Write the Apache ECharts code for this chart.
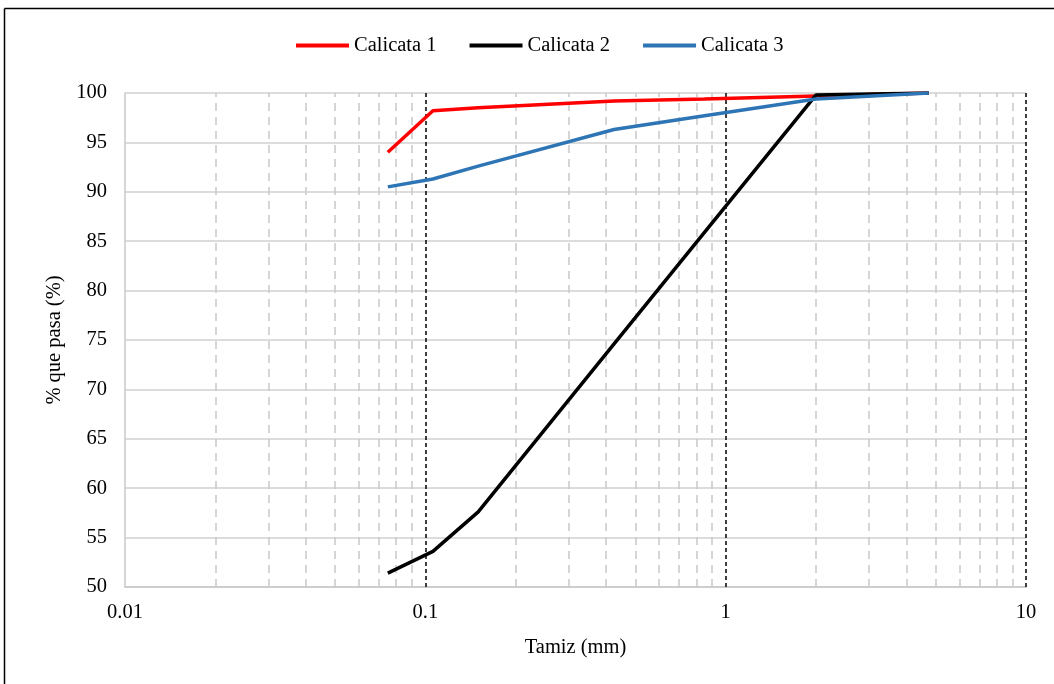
<!DOCTYPE html>
<html>
<head>
<meta charset="utf-8">
<script src="https://cdn.jsdelivr.net/npm/echarts@6/dist/echarts.min.js"></script>
<style>
html,body{margin:0;padding:0;background:#fff;}
#chart{width:1054px;height:684px;}
</style>
</head>
<body>
<div id="chart"></div>
<script>
// Sieve sizes (mm)
const sieves = [0.075, 0.106, 0.15, 0.425, 0.85, 2.0, 4.75];
// % passing
const calicata1 = [94.0, 98.2, 98.5, 99.2, 99.4, 99.7, 100];
const calicata2 = [51.4, 53.6, 57.6, 74.6, 85.9, 99.8, 100];
const calicata3 = [90.5, 91.3, 92.6, 96.3, 97.7, 99.4, 100];
const seriesNames = ['Calicata 1', 'Calicata 2', 'Calicata 3'];
const seriesColors = ['#ff0000', '#000000', '#2e75b6'];
// vertical grid positions on the log axis
const minorGrid = [0.02,0.03,0.04,0.05,0.06,0.07,0.08,0.09,0.2,0.3,0.4,0.5,0.6,0.7,0.8,0.9,2,3,4,5,6,7,8,9];
const majorGrid = [0.1, 1, 10];

const font = 'Liberation Serif, Times New Roman, serif';
const fs = 20.5;
const pairs = vals => sieves.map((s, i) => [s, vals[i]]);
const allVals = [calicata1, calicata2, calicata3];

const chart = echarts.init(document.getElementById('chart'), null, {renderer: 'canvas'});
chart.setOption({
  animation: false,
  backgroundColor: '#fff',
  graphic: [
    {type: 'line', shape: {x1: 4.5, y1: 8.5, x2: 1054, y2: 8.5}, style: {stroke: '#000', lineWidth: 1.5}, z: 100},
    {type: 'line', shape: {x1: 4.5, y1: 8.5, x2: 4.5, y2: 684}, style: {stroke: '#000', lineWidth: 1.5}, z: 100}
  ],
  legend: {
    top: 30,
    left: 291,
    icon: 'rect',
    itemWidth: 53,
    itemHeight: 4,
    itemGap: 33,
    textStyle: {fontFamily: font, fontSize: fs, color: '#000'},
    data: seriesNames
  },
  grid: {left: 125, right: 28, top: 93, bottom: 97, containLabel: false},
  xAxis: {
    type: 'log',
    logBase: 10,
    min: 0.01,
    max: 10,
    name: 'Tamiz (mm)',
    nameLocation: 'middle',
    nameGap: 50,
    nameTextStyle: {fontFamily: font, fontSize: fs, color: '#000'},
    axisLine: {show: true, lineStyle: {color: '#c8c8c8', width: 1.5}},
    axisTick: {show: false},
    axisLabel: {fontFamily: font, fontSize: fs, color: '#000', margin: 15,
      formatter: v => String(+v.toPrecision(3))},
    splitLine: {show: false}
  },
  yAxis: {
    type: 'value',
    min: 50,
    max: 100,
    interval: 5,
    name: '% que pasa (%)',
    nameLocation: 'middle',
    nameGap: 58,
    nameTextStyle: {fontFamily: font, fontSize: fs, color: '#000'},
    axisLine: {show: true, lineStyle: {color: '#c8c8c8', width: 1.5}},
    axisTick: {show: false},
    axisLabel: {fontFamily: font, fontSize: fs, color: '#000', margin: 18},
    splitLine: {show: true, lineStyle: {color: '#d0d0d0', width: 1.5}}
  },
  series: [
    {
      type: 'line',
      name: '_grid',
      data: [],
      z: 1,
      silent: true,
      markLine: {
        z: 1,
        silent: true,
        symbol: 'none',
        label: {show: false},
        animation: false,
        data: minorGrid.map(v => ({xAxis: v, lineStyle: {color: '#c8c8c8', type: [8, 6], width: 1.5}}))
          .concat(majorGrid.map(v => ({xAxis: v, lineStyle: {color: '#000', type: [4, 3], width: 1.5}})))
      }
    }
  ].concat(seriesNames.map((n, i) => ({
    type: 'line',
    name: n,
    data: pairs(allVals[i]),
    showSymbol: false,
    symbol: 'none',
    z: 3 + i,
    color: seriesColors[i],
    lineStyle: {color: seriesColors[i], width: 3.5}
  })))
});
</script>
</body>
</html>
